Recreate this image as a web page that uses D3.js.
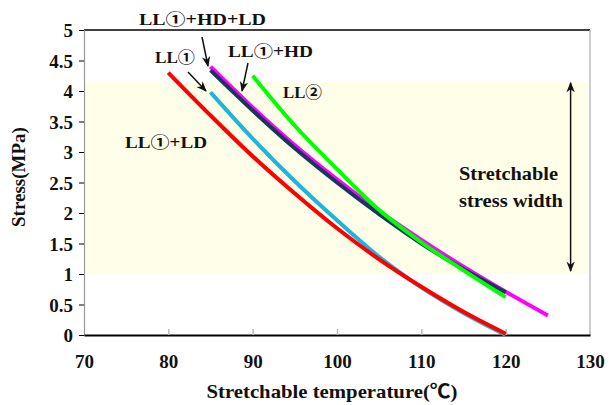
<!DOCTYPE html>
<html><head><meta charset="utf-8">
<script src="https://cdn.jsdelivr.net/npm/d3@7"></script>
<style>
body{margin:0;background:#fff;}
text{font-family:"Liberation Serif","Times New Roman","Noto Sans CJK JP",serif;font-weight:bold;fill:#111;}
</style></head><body>
<svg id="c" width="609" height="405"></svg>
<script>
// ---- data ----
const xTicks = [70, 80, 90, 100, 110, 120, 130];
const yTicks = [0, 0.5, 1, 1.5, 2, 2.5, 3, 3.5, 4, 4.5, 5];
const yTickLabels = ["0", "0.5", "1", "1.5", "2", "2.5", "3", "3.5", "4", "4.5", "5"];
const bandRange = [1, 4.15];

const magentaT = [85, 90, 95, 100, 105, 110, 115, 120, 125];
const magentaS = [4.40, 3.73, 3.11, 2.55, 2.03, 1.56, 1.12, 0.71, 0.32];
const navyT = [85, 90, 95, 100, 105, 110, 115, 120];
const navyS = [4.34, 3.68, 3.06, 2.50, 1.98, 1.50, 1.08, 0.70];
const greenT = [90, 95, 100, 105, 110, 115, 120];
const greenS = [4.25, 3.43, 2.72, 2.05, 1.52, 1.06, 0.62];
const cyanT = [85, 90, 95, 100, 105, 110, 115, 120];
const cyanS = [3.98, 3.22, 2.52, 1.88, 1.28, 0.78, 0.36, 0.0];
const redT = [80, 85, 90, 95, 100, 105, 110, 115, 120];
const redS = [4.30, 3.60, 2.93, 2.32, 1.75, 1.24, 0.79, 0.38, 0.02];

const series = [
  {name: "LL①+HD+LD", t: magentaT, s: magentaS, color: "#ff00ff"},
  {name: "LL①+HD", t: navyT, s: navyS, color: "#17375e"},
  {name: "LL②", t: greenT, s: greenS, color: "#00ff00"},
  {name: "LL①", t: cyanT, s: cyanS, color: "#1fb4dc"},
  {name: "LL①+LD", t: redT, s: redS, color: "#ff0000"}
];

// ---- layout ----
const svg = d3.select("#c");
const x = d3.scaleLinear().domain([70, 130]).range([84, 590]);
const y = d3.scaleLinear().domain([0, 5]).range([335, 30]);

// band
svg.append("rect")
  .attr("x", x(70)).attr("width", x(130) - x(70) - 2)
  .attr("y", y(bandRange[1])).attr("height", y(bandRange[0]) - y(bandRange[1]))
  .attr("fill", "#fefee9");

// frame
svg.append("line").attr("x1", x(70)).attr("x2", x(130)).attr("y1", y(5)).attr("y2", y(5)).attr("stroke", "#000").attr("stroke-width", 1.5);
svg.append("line").attr("x1", x(130)).attr("x2", x(130)).attr("y1", y(5)).attr("y2", y(0)).attr("stroke", "#bbb").attr("stroke-width", 1.5);

// y axis
const yAxis = d3.axisLeft(y).tickValues(yTicks).tickFormat((d, i) => yTickLabels[i]).tickSize(5).tickPadding(6);
const gy = svg.append("g").attr("transform", `translate(${x(70)},0)`).call(yAxis);
gy.attr("font-family", null);
gy.select(".domain").attr("stroke", "#999").attr("stroke-width", 1.2);
gy.selectAll(".tick line").attr("stroke", "#000");
gy.selectAll(".tick text").style("font-size", "19px").attr("dy", "0.36em");

// x axis
const xAxis = d3.axisBottom(x).tickValues(xTicks).tickSize(0).tickPadding(20);
const gx = svg.append("g").attr("transform", `translate(0,${y(0)})`).call(xAxis);
gx.attr("font-family", null);
gx.select(".domain").attr("stroke", "#000").attr("stroke-width", 1.8);
gx.selectAll(".tick text").style("font-size", "19px").attr("dy", "0.71em");
gx.selectAll(".tick").filter(d => d > 70 && d < 130).append("line")
  .attr("y1", 0).attr("y2", -6).attr("stroke", "#bbb").attr("stroke-width", 1.5);

// lines
const line = d3.line().curve(d3.curveMonotoneX);
series.forEach(sr => {
  const pts = sr.t.map((t, i) => [x(t), y(sr.s[i])]);
  svg.append("path").attr("d", line(pts)).attr("fill", "none")
    .attr("stroke", sr.color).attr("stroke-width", 4).attr("stroke-linecap", "butt");
});

// arrow markers
const defs = svg.append("defs");
defs.append("marker").attr("id", "ah").attr("viewBox", "0 0 10 10").attr("refX", 9).attr("refY", 5)
  .attr("markerWidth", 7).attr("markerHeight", 7).attr("orient", "auto-start-reverse")
  .append("path").attr("d", "M0,1 L10,5 L0,9 L3,5 Z").attr("fill", "#111");

function arrow(x1, y1, x2, y2, both) {
  const l = svg.append("line").attr("x1", x1).attr("y1", y1).attr("x2", x2).attr("y2", y2)
    .attr("stroke", "#111").attr("stroke-width", 1.5).attr("marker-end", "url(#ah)");
  if (both) l.attr("marker-start", "url(#ah)");
}
arrow(202, 37, 208, 66);
arrow(188, 72, 206, 91);
arrow(248, 63, 242, 91);
arrow(x(127.7), y(4.15) + 1, x(127.7), y(1) - 3, true);

// labels
function label(txt, x0, yb, size, w) {
  const t = svg.append("text").attr("x", x0).attr("y", yb).style("font-size", size + "px").text(txt);
  if (w) t.attr("textLength", w).attr("lengthAdjust", "spacingAndGlyphs");
  return t;
}
label("LL①+HD+LD", 139, 25, 16, 127);
label("LL①", 155, 63, 16, 40);
label("LL①+HD", 228, 57, 16, 85);
label("LL②", 283, 98, 16, 39);
label("LL①+LD", 125, 148, 16, 82);
label("Stretchable", 459, 180, 18, 99);
label("stress width", 459, 207, 18, 104);

// axis titles
svg.append("text").attr("x", 332).attr("y", 398).attr("text-anchor", "middle")
  .style("font-size", "19px").attr("textLength", 251).attr("lengthAdjust", "spacingAndGlyphs")
  .text("Stretchable temperature(℃)");
svg.append("text").attr("transform", "translate(25,177) rotate(-90)").attr("text-anchor", "middle")
  .style("font-size", "19px").text("Stress(MPa)");
</script>
</body></html>
